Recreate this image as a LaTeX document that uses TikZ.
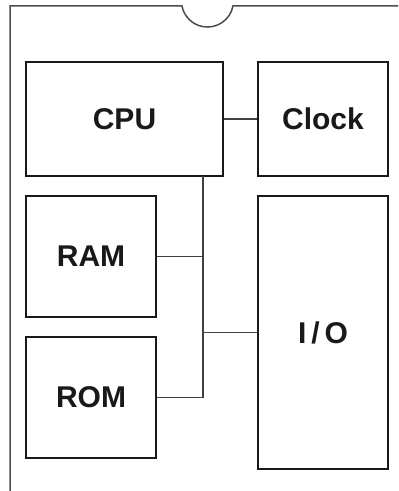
\documentclass[tikz,border=0pt]{standalone}
\usepackage{fontspec}
\setmainfont{Liberation Sans}
\begin{document}
\begin{tikzpicture}[x=0.5pt,y=0.5pt,
  blk/.style={draw=black!90,line width=1.1pt,inner sep=0pt,font=\fontsize{15}{17}\selectfont\bfseries,text=black!90},
  wire/.style={draw=black!75,line width=0.55pt},
  chip/.style={draw=black!70,line width=0.75pt}]
  \useasboundingbox (0,0) rectangle (398,491);
  % package outline with the notch on top
  \draw[chip] (398,485) -- (233,485) arc[start angle=-11,end angle=-169,radius=26] -- (10,485) -- (10,-2);
  % blocks
  \node[blk,minimum width=98.5pt,minimum height=57pt] (cpu) at (124.5,372) {CPU};
  \node[blk,minimum width=65pt,minimum height=57pt] (clk) at (323,372) {Clock};
  \node[blk,minimum width=65pt,minimum height=60.5pt] (ram) at (91,234.5) {RAM};
  \node[blk,minimum width=65pt,minimum height=60.5pt] (rom) at (91,93.5) {ROM};
  \node[blk,minimum width=65pt,minimum height=136.5pt] (io) at (323,158.5) {I\,/\,O};
  % bus
  \coordinate (bt) at (203,315);
  \coordinate (bb) at (bt |- rom.east);
  \draw[wire] (cpu) -- (clk);
  \draw[wire] (bt) -- (bb) -- (rom.east);
  \draw[wire] (ram.east) -- (ram.east -| bt);
  \draw[wire] (io.west) -- (io.west -| bt);
\end{tikzpicture}
\end{document}
